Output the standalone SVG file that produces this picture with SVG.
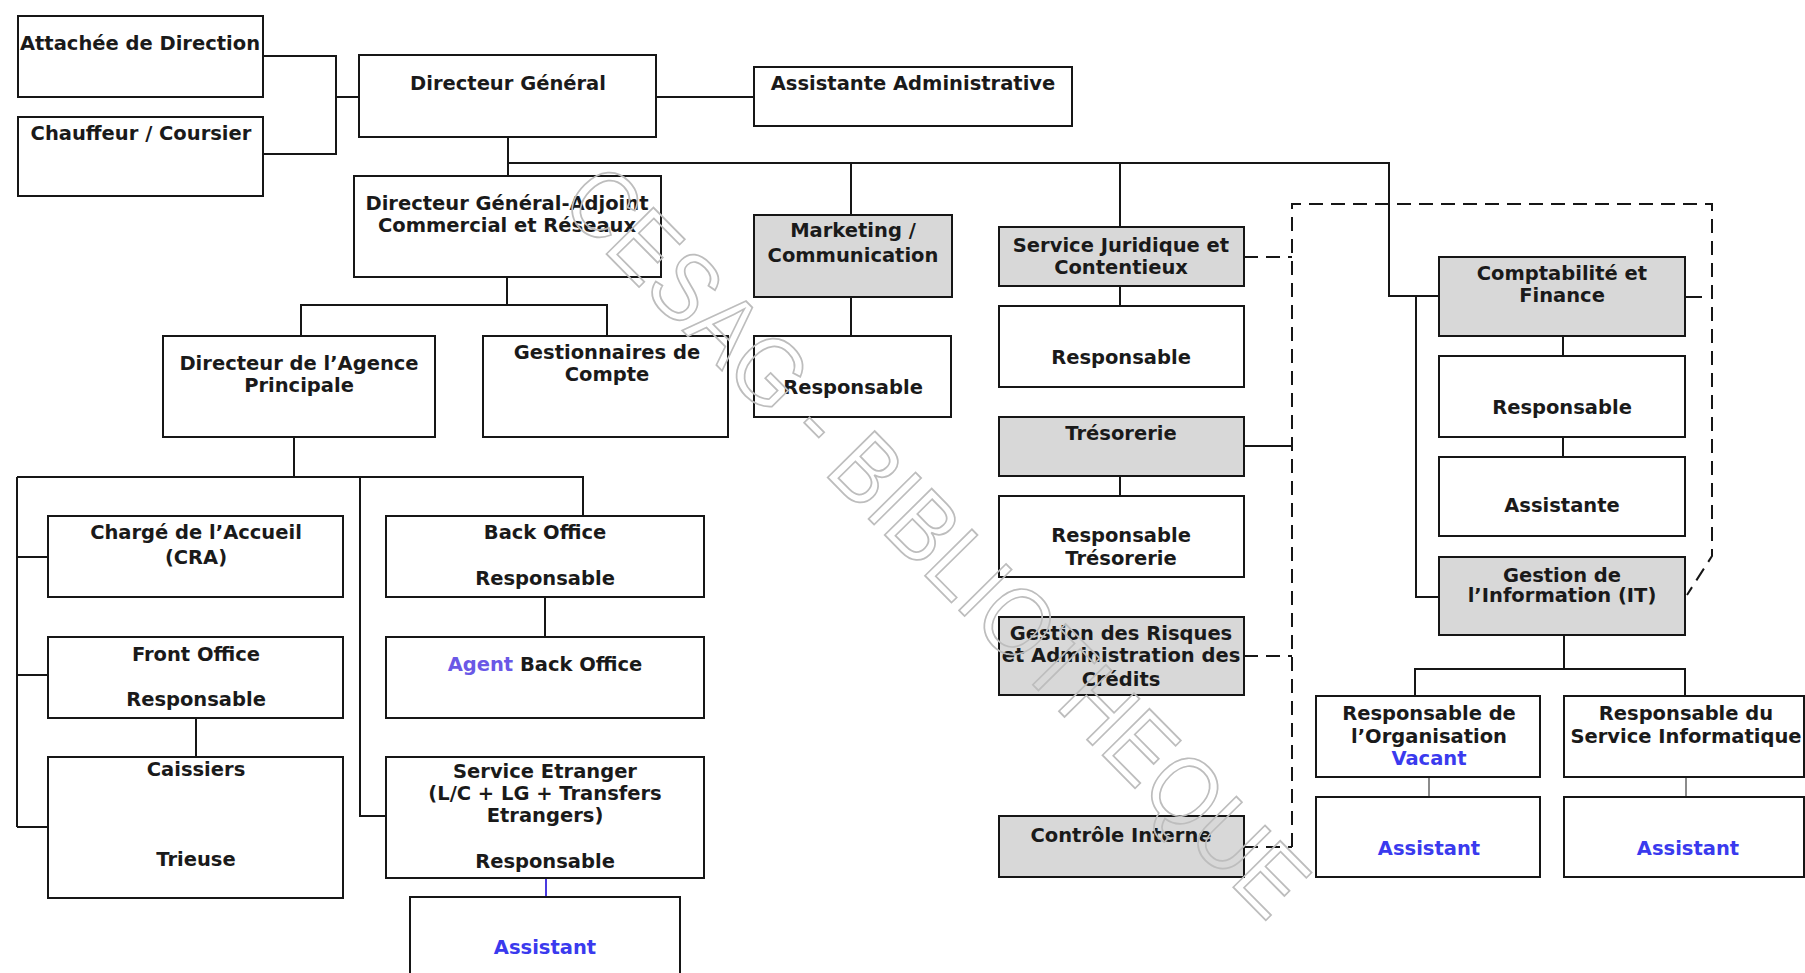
<svg xmlns="http://www.w3.org/2000/svg" width="1805" height="973" viewBox="0 0 1805 973">
<style>
.b{fill:#fff;stroke:#161616;stroke-width:2}
.g{fill:#d8d8d8;stroke:#161616;stroke-width:2}
.t{font-family:"DejaVu Sans","Liberation Sans",sans-serif;font-weight:bold;font-size:19.5px;fill:#1a1a1a;text-anchor:middle}
.bl{fill:#3a3aee}
.ag{fill:#6a58e6}
.c{fill:none;stroke:#161616;stroke-width:2}
.d{fill:none;stroke:#161616;stroke-width:2;stroke-dasharray:14 8}
.wm{font-family:"Liberation Sans",Arial,sans-serif;font-size:96px;fill:none;stroke:#bdbdbd;stroke-width:1.8}
</style>
<rect width="1805" height="973" fill="#fff"/>

<g id="connectors">
<path class="c" d="M263,56H336V154H263M336,97H359"/>
<path class="c" d="M656,97H754"/>
<path class="c" d="M508,137V176M508,163H1389V296H1439"/>
<path class="c" d="M851,163V215M851,297V336"/>
<path class="c" d="M1120,163V227M1120,286V306M1120,476V496"/>
<path class="c" d="M1244,446H1292"/>
<path class="d" d="M1244,257H1292M1244,656H1292M1244,847H1292"/>
<path class="d" d="M1292,847V204H1712V556L1687,595"/>
<path class="c" d="M1685,297H1702"/>
<path class="c" d="M1416,296V597H1439"/>
<path class="c" d="M1563,336V356M1563,437V457"/>
<path class="c" d="M1564,635V669M1415,696V669H1685V696"/>
<path fill="none" stroke="#666" stroke-width="1.5" d="M1429,777V797M1686,777V797"/>
<path class="c" d="M507,277V305M301,336V305H607V336"/>
<path class="c" d="M294,437V477M17,477H583V516M17,477V827M17,557H48M17,675H48M17,827H48"/>
<path class="c" d="M360,477V816H386"/>
<path class="c" d="M545,597V637"/>
<path class="c" d="M196,718V757"/>
<path fill="none" stroke="#4a3ae0" stroke-width="2" d="M546,878V897"/>
</g>

<g id="attachee"><rect class="b" x="18" y="16" width="245" height="81"/><text class="t" x="140" y="50">Attachée de Direction</text></g>
<g id="chauffeur"><rect class="b" x="18" y="117" width="245" height="79"/><text class="t" x="141" y="140">Chauffeur / Coursier</text></g>
<g id="dg"><rect class="b" x="359" y="55" width="297" height="82"/><text class="t" x="508" y="90">Directeur Général</text></g>
<g id="assistante-admin"><rect class="b" x="754" y="67" width="318" height="59"/><text class="t" x="913" y="90">Assistante Administrative</text></g>
<g id="dga"><rect class="b" x="354" y="176" width="307" height="101"/><text class="t" x="507" y="210">Directeur Général-Adjoint</text><text class="t" x="507" y="232">Commercial et Réseaux</text></g>
<g id="marketing"><rect class="g" x="754" y="215" width="198" height="82"/><text class="t" x="853" y="237">Marketing /</text><text class="t" x="853" y="262">Communication</text></g>
<g id="marketing-resp"><rect class="b" x="754" y="336" width="197" height="81"/><text class="t" x="853" y="394">Responsable</text></g>
<g id="juridique"><rect class="g" x="999" y="227" width="245" height="59"/><text class="t" x="1121" y="252">Service Juridique et</text><text class="t" x="1121" y="274">Contentieux</text></g>
<g id="juridique-resp"><rect class="b" x="999" y="306" width="245" height="81"/><text class="t" x="1121" y="364">Responsable</text></g>
<g id="tresorerie"><rect class="g" x="999" y="417" width="245" height="59"/><text class="t" x="1121" y="440">Trésorerie</text></g>
<g id="tresorerie-resp"><rect class="b" x="999" y="496" width="245" height="81"/><text class="t" x="1121" y="542">Responsable</text><text class="t" x="1121" y="565">Trésorerie</text></g>
<g id="risques"><rect class="g" x="999" y="617" width="245" height="78"/><text class="t" x="1121" y="640">Gestion des Risques</text><text class="t" x="1121" y="662">et Administration des</text><text class="t" x="1121" y="686">Crédits</text></g>
<g id="controle"><rect class="g" x="999" y="816" width="245" height="61"/><text class="t" x="1121" y="842">Contrôle Interne</text></g>
<g id="comptabilite"><rect class="g" x="1439" y="257" width="246" height="79"/><text class="t" x="1562" y="280">Comptabilité et</text><text class="t" x="1562" y="302">Finance</text></g>
<g id="cf-resp"><rect class="b" x="1439" y="356" width="246" height="81"/><text class="t" x="1562" y="414">Responsable</text></g>
<g id="cf-assistante"><rect class="b" x="1439" y="457" width="246" height="79"/><text class="t" x="1562" y="512">Assistante</text></g>
<g id="gestion-it"><rect class="g" x="1439" y="557" width="246" height="78"/><text class="t" x="1562" y="582">Gestion de</text><text class="t" x="1562" y="602">l’Information (IT)</text></g>
<g id="resp-org"><rect class="b" x="1316" y="696" width="224" height="81"/><text class="t" x="1429" y="720">Responsable de</text><text class="t" x="1429" y="743">l’Organisation</text><text class="t bl" x="1429" y="765">Vacant</text></g>
<g id="resp-info"><rect class="b" x="1564" y="696" width="240" height="81"/><text class="t" x="1686" y="720">Responsable du</text><text class="t" x="1686" y="743">Service Informatique</text></g>
<g id="assistant-org"><rect class="b" x="1316" y="797" width="224" height="80"/><text class="t bl" x="1429" y="855">Assistant</text></g>
<g id="assistant-info"><rect class="b" x="1564" y="797" width="240" height="80"/><text class="t bl" x="1688" y="855">Assistant</text></g>
<g id="agence"><rect class="b" x="163" y="336" width="272" height="101"/><text class="t" x="299" y="370">Directeur de l’Agence</text><text class="t" x="299" y="392">Principale</text></g>
<g id="gestionnaires"><rect class="b" x="483" y="336" width="245" height="101"/><text class="t" x="607" y="359">Gestionnaires de</text><text class="t" x="607" y="381">Compte</text></g>
<g id="accueil"><rect class="b" x="48" y="516" width="295" height="81"/><text class="t" x="196" y="539">Chargé de l’Accueil</text><text class="t" x="196" y="564">(CRA)</text></g>
<g id="back-office"><rect class="b" x="386" y="516" width="318" height="81"/><text class="t" x="545" y="539">Back Office</text><text class="t" x="545" y="585">Responsable</text></g>
<g id="agent-bo"><rect class="b" x="386" y="637" width="318" height="81"/><text class="t" x="545" y="671"><tspan class="ag">Agent</tspan> Back Office</text></g>
<g id="front-office"><rect class="b" x="48" y="637" width="295" height="81"/><text class="t" x="196" y="661">Front Office</text><text class="t" x="196" y="706">Responsable</text></g>
<g id="caissiers"><rect class="b" x="48" y="757" width="295" height="141"/><text class="t" x="196" y="776">Caissiers</text><text class="t" x="196" y="866">Trieuse</text></g>
<g id="service-etranger"><rect class="b" x="386" y="757" width="318" height="121"/><text class="t" x="545" y="778">Service Etranger</text><text class="t" x="545" y="800">(L/C + LG + Transfers</text><text class="t" x="545" y="822">Etrangers)</text><text class="t" x="545" y="868">Responsable</text></g>
<g id="assistant-se"><rect class="b" x="410" y="897" width="270" height="90"/><text class="t bl" x="545" y="954">Assistant</text></g>

<text class="wm" transform="translate(558,205) rotate(45.3)" textLength="1010" lengthAdjust="spacingAndGlyphs">CESAG - BIBLIOTHEQUE</text>
</svg>
